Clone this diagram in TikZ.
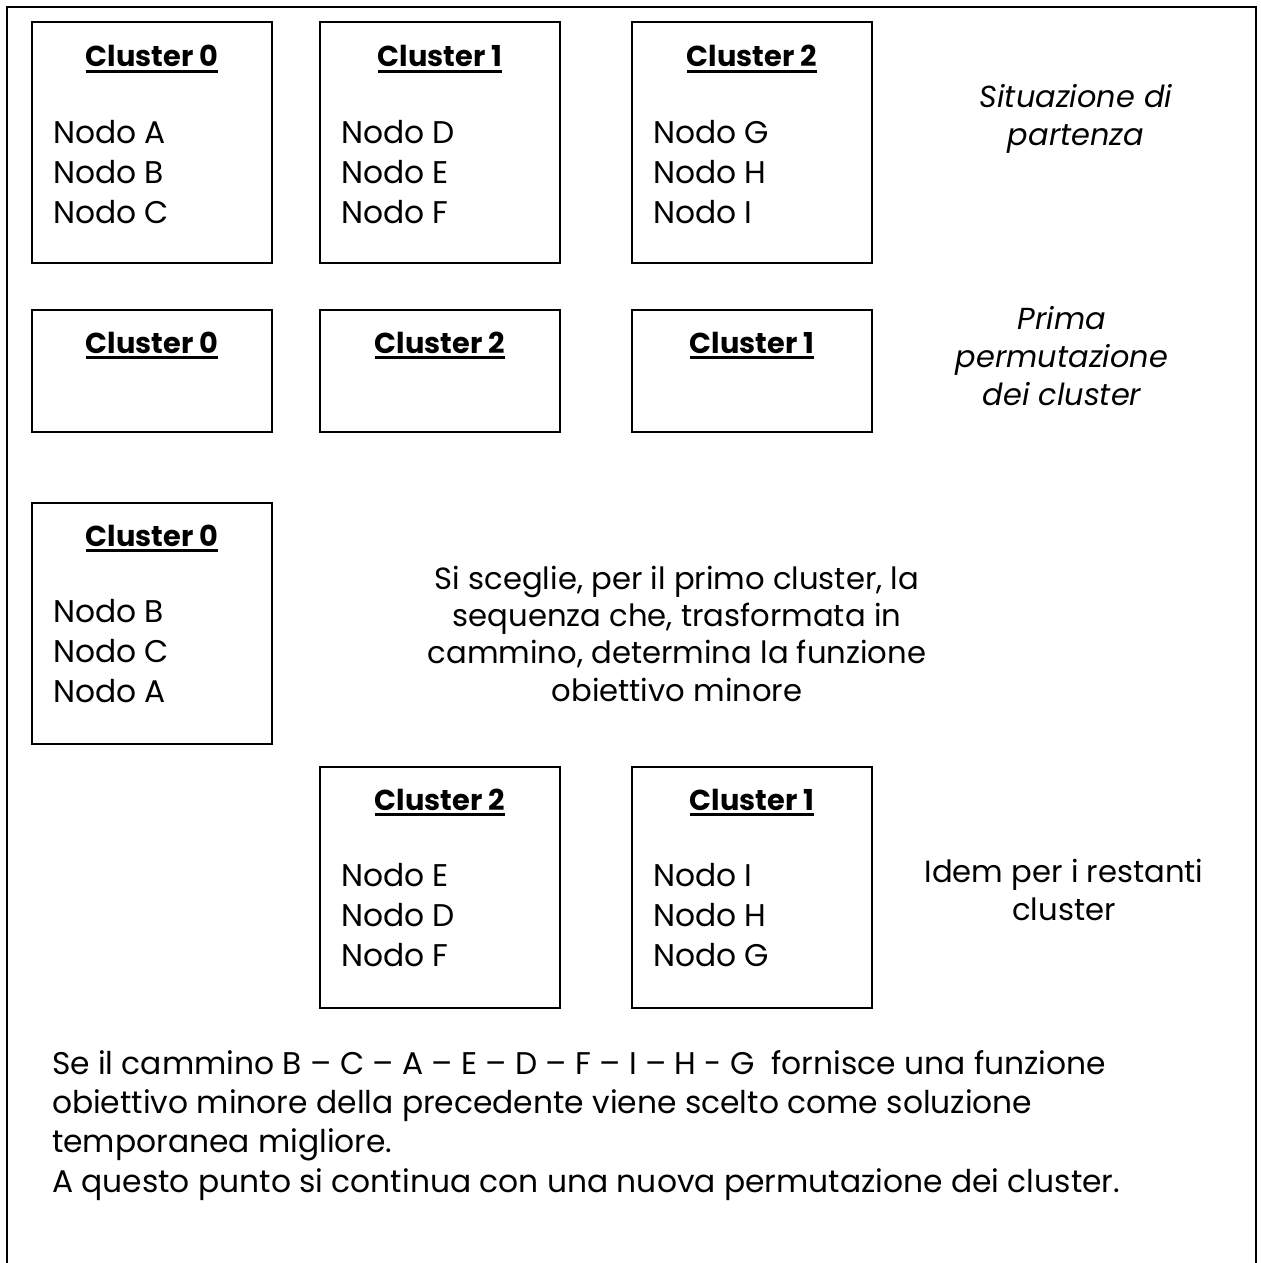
\documentclass[tikz,border=0pt]{standalone}
\usepackage{fontspec}
\setmainfont{Poppins}
\begin{document}
\begin{tikzpicture}[x=0.75pt,y=-0.75pt,
  every node/.style={inner sep=0pt, outer sep=0pt},
  frame/.style={line width=1.5pt},
  box/.style={draw, line width=1.5pt, anchor=north west, minimum width=180pt},
  tall/.style={box, minimum height=180.75pt},
  short/.style={box, minimum height=91.5pt},
  ttl/.style={anchor=base, font=\fontsize{21.6}{24}\selectfont\bfseries},
  body/.style={anchor=base west, align=left, font=\fontsize{23.5}{30}\selectfont},
  note/.style={anchor=base, align=center, font=\fontsize{22.8}{28.3}\selectfont\itshape},
  plain/.style={anchor=base, align=center, font=\fontsize{23}{28}\selectfont},
  uline/.style={line width=1.8pt},
]
\useasboundingbox (0,0) rectangle (1260,1263);
\draw[frame] (7,1263) -- (7,7) -- (1256,7) -- (1256,1263);

% row 1 (multi-line nodes are placed by the baseline of their last line)
\node[tall] (b1) at (32,22) {};
\node[tall] (b2) at (320,22) {};
\node[tall] (b3) at (632,22) {};
\node[ttl] (t1) at (152,67) {Cluster 0};
\node[ttl] (t2) at (440,67) {Cluster 1};
\node[ttl] (t3) at (752,67) {Cluster 2};
\node[body] (n1) at (53,223) {Nodo A\\Nodo B\\Nodo C};
\node[body] (n2) at (341,223) {Nodo D\\Nodo E\\Nodo F};
\node[body] (n3) at (653,223) {Nodo G\\Nodo H\\Nodo I};
\node[note] (s1) at (1076,145) {Situazione di\\partenza};

% row 2
\node[short] (b4) at (32,310) {};
\node[short] (b5) at (320,310) {};
\node[short] (b6) at (632,310) {};
\node[ttl] (t4) at (152,353) {Cluster 0};
\node[ttl] (t5) at (440,353) {Cluster 2};
\node[ttl] (t6) at (752,353) {Cluster 1};
\node[note] (s2) at (1062,405) {Prima\\permutazione\\dei cluster};

% row 3
\node[tall] (b7) at (32,503) {};
\node[ttl] (t7) at (152,546) {Cluster 0};
\node[body] (n7) at (53,702) {Nodo B\\Nodo C\\Nodo A};
\node[plain] (s3) at (677,701) {Si sceglie, per il primo cluster, la\\sequenza che, trasformata in\\cammino, determina la funzione\\obiettivo minore};

% row 4
\node[tall] (b8) at (320,767) {};
\node[tall] (b9) at (632,767) {};
\node[ttl] (t8) at (440,810) {Cluster 2};
\node[ttl] (t9) at (752,810) {Cluster 1};
\node[body] (n8) at (341,966) {Nodo E\\Nodo D\\Nodo F};
\node[body] (n9) at (653,966) {Nodo I\\Nodo H\\Nodo G};
\node[plain] (s4) at (1064,920) {Idem per i restanti\\cluster};

% bottom text
\node[body, font=\fontsize{23.5}{29.3}\selectfont] (p1) at (52,1192) {Se il cammino B – C – A – E – D – F – I – H - G\ \ fornisce una funzione\\obiettivo minore della precedente viene scelto come soluzione\\temporanea migliore.\\A questo punto si continua con una nuova permutazione dei cluster.};

% underlines
\foreach \t in {t1,t2,t3,t4,t5,t6,t7,t8,t9}
  \draw[uline] ([yshift=-3.3pt]\t.base west) -- ([yshift=-3.3pt]\t.base east);
\end{tikzpicture}
\end{document}
